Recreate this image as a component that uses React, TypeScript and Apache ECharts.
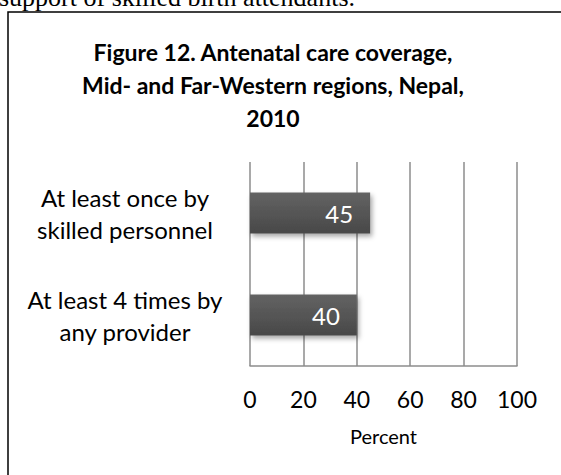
import React, { useEffect, useRef } from "react";
import * as echarts from "echarts";

const categories = ["At least once by\nskilled personnel", "At least 4 times by\nany provider"];
const values = [45, 40];
const titleText = "Figure 12. Antenatal care coverage,\nMid- and Far-Western regions, Nepal,\n2010";
const topText = "support of skilled birth attendants.";
const axisName = "Percent";

export default function App() {
  const ref = useRef<HTMLDivElement>(null);
  useEffect(() => {
    if (!ref.current) return;
    const chart = echarts.init(ref.current, null, { renderer: "svg" });
    const font = "Lato, 'Noto Sans', sans-serif";
    chart.setOption({
      animation: false,
      backgroundColor: "#ffffff",
      title: {
        text: titleText,
        left: 268,
        top: 30,
        textAlign: "center",
        textStyle: { fontFamily: font, fontWeight: "bold", fontSize: 23, lineHeight: 33, color: "#000" },
      },
      graphic: [
        {
          type: "text",
          left: -1,
          top: -16,
          style: { text: topText, font: "26px 'Liberation Serif', serif", fill: "#000" },
        },
        {
          type: "rect",
          shape: { x: 8, y: 12, width: 600, height: 500 },
          style: { fill: "none", stroke: "#000", lineWidth: 1.5 },
          silent: true,
        },
      ],
      grid: { left: 250, top: 162, width: 267, height: 204, containLabel: false },
      xAxis: {
        type: "value",
        min: 0,
        max: 100,
        interval: 20,
        axisLine: { show: true, lineStyle: { color: "#8c8c8c", width: 1.5 } },
        axisTick: { show: false },
        splitLine: { show: true, lineStyle: { color: "#8c8c8c", width: 1.5 } },
        axisLabel: { margin: 21, fontFamily: font, fontSize: 23, color: "#000" },
        name: axisName,
        nameLocation: "middle",
        nameGap: 60,
        nameTextStyle: { fontFamily: font, fontSize: 20, color: "#000" },
      },
      yAxis: {
        type: "category",
        inverse: true,
        data: categories,
        axisLine: { show: false },
        axisTick: { show: false },
        axisLabel: { align: "center", margin: 125, fontFamily: font, fontSize: 24, lineHeight: 32, color: "#000" },
      },
      series: [
        {
          type: "bar",
          data: values,
          barWidth: 41,
          itemStyle: {
            color: new echarts.graphic.LinearGradient(0, 0, 0, 1, [
              { offset: 0, color: "#636363" },
              { offset: 1, color: "#484848" },
            ]),
            shadowBlur: 5,
            shadowOffsetX: 2,
            shadowOffsetY: 3,
            shadowColor: "rgba(0,0,0,0.35)",
          },
          label: {
            show: true,
            position: "insideRight",
            distance: 17,
            fontFamily: font,
            fontSize: 24,
            color: "#fff",
          },
        },
      ],
    });
    return () => chart.dispose();
  }, []);
  return <div ref={ref} style={{ position: "fixed", left: 0, top: 0, width: 561, height: 475 }} />;
}
